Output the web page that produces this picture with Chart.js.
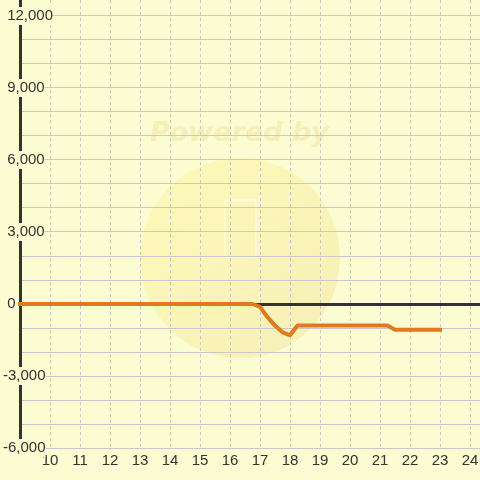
<!DOCTYPE html>
<html>
<head>
<meta charset="utf-8">
<script src="https://cdn.jsdelivr.net/npm/chart.js@4.4.1/dist/chart.umd.min.js"></script>
<style>
  html, body { margin: 0; padding: 0; background: #fcfcd2; }
  #wrap { width: 480px; height: 480px; }
</style>
</head>
<body>
<div id="wrap"><canvas id="grafica" width="480" height="480"></canvas></div>
<script>
// ========== DATOS ==========
const horas = [9, 16.75, 17, 17.25, 17.5, 17.75, 18, 18.25, 21.25, 21.5, 23];
const valores = [0, 0, -120, -550, -900, -1180, -1300, -900, -900, -1070, -1070];
const ticksX = [10, 11, 12, 13, 14, 15, 16, 17, 18, 19, 20, 21, 22, 23, 24];
const ticksY = [-6000, -3000, 0, 3000, 6000, 9000, 12000];
const lineasY = [-6000, -5000, -4000, -3000, -2000, -1000, 0, 1000, 2000, 3000,
  4000, 5000, 6000, 7000, 8000, 9000, 10000, 11000, 12000];

const fondo = '#fcfcd2';
const fuente = '"Liberation Sans", Arial, sans-serif';

// formato con miles y signo "colgado"
function formatear(v) {
  const s = String(Math.abs(v)).replace(/\B(?=(\d{3})+(?!\d))/g, ',');
  return v < 0 ? '-' + s : ' ' + s;
}

// medir etiquetas para el fondo de cada una
const medidor = document.createElement('canvas').getContext('2d');
medidor.font = '15px ' + fuente;
function anchoEtiqueta(v) {
  return medidor.measureText(formatear(v)).width;
}

// ========== PLUGIN: FONDO Y MARCA DE AGUA ==========
const fondoPlugin = {
  id: 'fondo',
  beforeDraw(chart) {
    const c = chart.ctx;
    c.save();
    c.fillStyle = fondo;
    c.fillRect(0, 0, chart.width, chart.height);

    // circulo
    const g = c.createLinearGradient(160, 170, 320, 350);
    g.addColorStop(0, 'rgba(255, 240, 140, 0.35)');
    g.addColorStop(1, 'rgba(240, 225, 150, 0.45)');
    c.fillStyle = g;
    c.beginPath();
    c.arc(240, 258, 100, 0, Math.PI * 2);
    c.fill();

    // rectangulo del logo
    c.strokeStyle = 'rgba(255, 255, 255, 0.55)';
    c.lineWidth = 1.5;
    c.beginPath();
    c.roundRect(225, 200, 31, 57, 3);
    c.stroke();

    // texto
    c.font = 'italic bold 27px "DejaVu Sans"';
    c.fillStyle = 'rgba(232, 210, 110, 0.28)';
    c.textBaseline = 'alphabetic';
    c.fillText('Powered by', 150, 141);
    c.restore();
  }
};

// ========== GRAFICA ==========
const grafica = new Chart(document.getElementById('grafica'), {
  type: 'line',
  data: {
    datasets: [{
      data: horas.map((h, i) => ({ x: h, y: valores[i] })),
      borderColor: '#e07a1f',
      borderWidth: 4,
      pointRadius: 0,
      tension: 0,
      fill: false,
      clip: false,
      borderJoinStyle: 'round',
      borderCapStyle: 'square'
    }]
  },
  options: {
    responsive: false,
    animation: false,
    layout: { padding: { left: 3, top: 0, right: 0, bottom: 0 } },
    plugins: {
      legend: { display: false },
      tooltip: { enabled: false }
    },
    scales: {
      x: {
        type: 'linear',
        min: 9,
        max: 24 + 1 / 3,
        border: { display: false, dash: [3, 3] },
        grid: {
          color: '#c8c8cc',
          lineWidth: 1,
          drawTicks: false
        },
        afterBuildTicks: s => { s.ticks = ticksX.map(v => ({ value: v })); },
        ticks: {
          autoSkip: false,
          maxRotation: 0,
          padding: 4,
          color: '#333',
          font: { family: fuente, size: 15 },
          callback: v => String(v)
        },
        afterFit: s => { s.height = 32; s.paddingLeft = 0; s.paddingRight = 0; }
      },
      y: {
        type: 'linear',
        min: -6000,
        max: 12000 + 16 / 0.024,
        border: { display: true, color: '#333', width: 3 },
        grid: {
          color: ctx => ctx.tick && ctx.tick.value === 0 ? '#333' : '#c8c8cc',
          lineWidth: ctx => ctx.tick && ctx.tick.value === 0 ? 3 : 1,
          drawTicks: false
        },
        afterBuildTicks: s => { s.ticks = lineasY.map(v => ({ value: v })); },
        ticks: {
          autoSkip: false,
          mirror: true,
          crossAlign: 'near',
          padding: -17,
          color: '#333',
          font: { family: fuente, size: 15 },
          callback: v => ticksY.includes(v) ? formatear(v) : '',
          showLabelBackdrop: ctx => ticksY.includes(ctx.tick.value),
          backdropColor: fondo,
          backdropPadding: ctx => ({
            left: 3,
            right: Math.max(1, 48 - anchoEtiqueta(ctx.tick.value)),
            top: ctx.tick.value === 12000 ? 10 : -2,
            bottom: -2
          })
        },
        afterFit: s => { s.width = 17; s.paddingTop = 0; s.paddingBottom = 0; }
      }
    }
  },
  plugins: [fondoPlugin]
});
</script>
</body>
</html>
